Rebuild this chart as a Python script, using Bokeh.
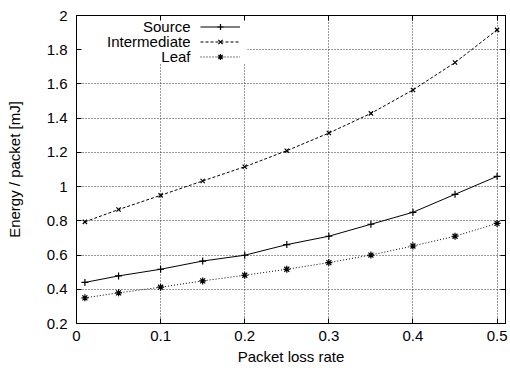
from bokeh.plotting import figure
from bokeh.models import (LinearAxis, FixedTicker, Range1d, Legend, LegendItem,
                          Label, BoxAnnotation, CustomLabelingPolicy)
from bokeh.core.properties import value
from bokeh.embed import file_html
from bokeh.resources import INLINE

# ---- data ----
loss_rate = [0.01, 0.05, 0.1, 0.15, 0.2, 0.25, 0.3, 0.35, 0.4, 0.45, 0.5]
source = [0.44, 0.478, 0.517, 0.565, 0.599, 0.661, 0.71, 0.78, 0.85, 0.955, 1.06]
intermediate = [0.794, 0.866, 0.949, 1.033, 1.116, 1.21, 1.313, 1.428, 1.565, 1.725, 1.916]
leaf = [0.35, 0.379, 0.412, 0.449, 0.482, 0.517, 0.556, 0.60, 0.653, 0.71, 0.785]
series_names = ["Source", "Intermediate", "Leaf"]

x_ticks = [0, 0.1, 0.2, 0.3, 0.4, 0.5]
x_tick_labels = ["0", "0.1", "0.2", "0.3", "0.4", "0.5"]
y_ticks = [0.2, 0.4, 0.6, 0.8, 1.0, 1.2, 1.4, 1.6, 1.8, 2.0]
y_tick_labels = ["0.2", "0.4", "0.6", "0.8", "1", "1.2", "1.4", "1.6", "1.8", "2"]

FONT = "Liberation Sans"

p = figure(width=510, height=368, output_backend="svg", toolbar_location=None,
           x_range=Range1d(0, 0.51), y_range=Range1d(0.2, 2.0),
           x_axis_label="Packet loss rate", y_axis_label="Energy / packet [mJ]",
           min_border_left=76, min_border_right=5, min_border_top=15, min_border_bottom=45)
p.background_fill_color = "white"
p.border_fill_color = "white"
p.outline_line_color = "black"
p.outline_line_width = 1

no_labels = CustomLabelingPolicy(code="return new Set()")

# axes
def style_axis(ax, ticks, labels, show_labels):
    ax.ticker = FixedTicker(ticks=ticks)
    ax.major_label_overrides = dict(zip(ticks, labels))
    ax.major_tick_in = 5
    ax.major_tick_out = 0
    ax.minor_tick_line_color = None
    ax.axis_line_color = "black"
    ax.major_tick_line_color = "black"
    ax.major_label_text_font = FONT
    ax.major_label_text_color = "black"
    if show_labels:
        ax.major_label_text_font_size = "15px"
    else:
        ax.major_label_text_font_size = "1px"
        ax.major_label_standoff = 0
        ax.major_label_policy = no_labels

xa = p.xaxis[0]
ya = p.yaxis[0]
style_axis(xa, x_ticks, x_tick_labels, True)
style_axis(ya, y_ticks, y_tick_labels, True)
xa.major_label_standoff = 7
xa.axis_label_standoff = 4
ya.major_label_standoff = 9
ya.axis_label_standoff = 21
for ax in (xa, ya):
    ax.axis_label_text_font = FONT
    ax.axis_label_text_font_size = "15px"
    ax.axis_label_text_font_style = "normal"
    ax.axis_label_text_color = "black"

top = LinearAxis()
style_axis(top, x_ticks, x_tick_labels, False)
p.add_layout(top, "above")
right = LinearAxis()
style_axis(right, y_ticks, y_tick_labels, False)
p.add_layout(right, "right")

# grid
p.xgrid.ticker = FixedTicker(ticks=x_ticks)
p.ygrid.ticker = FixedTicker(ticks=y_ticks)
for g in (p.xgrid[0], p.ygrid[0]):
    g.grid_line_color = "#333333"
    g.grid_line_dash = "1 2"
    g.grid_line_width = 1

# white key area (hides grid behind the key)
p.add_layout(BoxAnnotation(left=0, right=0.203, bottom=1.72, top=2.0,
                           fill_color="white", fill_alpha=1, line_alpha=0,
                           level="underlay"))

# series
styles = [
    dict(data=source, dash="solid", marker="cross", size=7),
    dict(data=intermediate, dash="3 2", marker="x", size=6),
    dict(data=leaf, dash="1 2", marker="asterisk", size=7),
]
items = []
for name, st in zip(series_names, styles):
    lr = p.line(loss_rate, st["data"], line_color="black", line_width=1,
                line_dash=st["dash"])
    sr = p.scatter(loss_rate, st["data"], marker=st["marker"], size=st["size"],
                   line_color="black", fill_color="black", line_width=1.2)
    items.append(LegendItem(label=value(" "), renderers=[lr, sr]))

legend = Legend(items=items, location=(124, 259), padding=0, spacing=0,
                margin=0, glyph_width=40, glyph_height=15, label_height=15,
                label_width=1, label_standoff=0, label_text_font_size="1px",
                border_line_alpha=0, background_fill_alpha=0)
p.add_layout(legend, "center")

# key texts (right aligned, left of the samples)
key_y = [1.936, 1.848, 1.760]
for name, ky in zip(series_names, key_y):
    p.add_layout(Label(x=0.1355, y=ky, text=name, text_align="right",
                       text_baseline="middle", text_font=FONT,
                       text_font_size="15px", text_color="black"))

open("out.html", "w").write(file_html(p, INLINE))
